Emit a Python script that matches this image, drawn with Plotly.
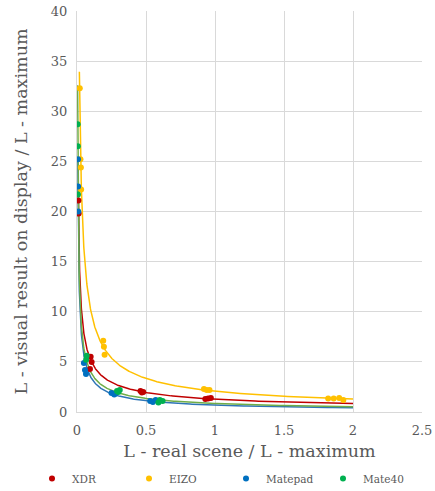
import numpy as np
import plotly.graph_objects as go

# ---- data ----
xdr_x = [0.010, 0.012, 0.094, 0.099, 0.106, 0.46, 0.47, 0.48, 0.93, 0.95, 0.97]
xdr_y = [21.1, 19.8, 4.3, 5.5, 5.0, 2.1, 1.95, 2.0, 1.3, 1.35, 1.4]

eizo_x = [0.020, 0.025, 0.028, 0.030, 0.19, 0.195, 0.20, 0.92, 0.94, 0.96, 1.82, 1.86, 1.90, 1.93]
eizo_y = [32.3, 25.2, 24.4, 22.2, 7.1, 6.5, 5.7, 2.3, 2.2, 2.2, 1.35, 1.35, 1.4, 1.2]

matepad_x = [0.007, 0.008, 0.009, 0.05, 0.058, 0.065, 0.25, 0.27, 0.28, 0.53, 0.55, 0.57]
matepad_y = [25.2, 22.5, 20.0, 4.9, 4.2, 3.8, 1.9, 1.75, 1.85, 1.1, 1.0, 1.2]

mate40_x = [0.005, 0.006, 0.007, 0.066, 0.07, 0.29, 0.30, 0.31, 0.59, 0.60, 0.62]
mate40_y = [28.7, 26.5, 21.7, 5.2, 5.6, 2.1, 2.0, 2.2, 0.95, 1.2, 1.1]

series_names = ["XDR", "EIZO", "Matepad", "Mate40"]
series_colors = ["#C00000", "#FFC000", "#0070C0", "#00B050"]
trend_colors = ["#C00000", "#FFC000", "#2E75B6", "#70AD47"]
trend_start_factor = 0.86
trend_end = 2.0

x_tick_vals = [0, 0.5, 1, 1.5, 2, 2.5]
x_tick_text = ["0", "0.5", "1", "1.5", "2", "2.5"]
y_tick_vals = [0, 5, 10, 15, 20, 25, 30, 35, 40]

FONT = "DejaVu Serif"
TXT = "#595959"

fig = go.Figure()
data = [(xdr_x, xdr_y), (eizo_x, eizo_y), (matepad_x, matepad_y), (mate40_x, mate40_y)]

# power trendlines fitted from the data
for (xs, ys), name, tc in zip(data, series_names, trend_colors):
    lx, ly = np.log(xs), np.log(ys)
    b, loga = np.polyfit(lx, ly, 1)
    tx = np.geomspace(min(xs) * trend_start_factor, trend_end, 300)
    ty = np.exp(loga) * tx ** b
    fig.add_trace(go.Scatter(x=tx, y=ty, mode="lines", line=dict(color=tc, width=1.5),
                             showlegend=False, hoverinfo="skip"))

for (xs, ys), name, c in zip(data, series_names, series_colors):
    fig.add_trace(go.Scatter(x=xs, y=ys, mode="markers", name=name,
                             marker=dict(color=c, size=6)))

fig.update_layout(
    width=435, height=491,
    margin=dict(l=77, r=13, t=11, b=79, autoexpand=False),
    paper_bgcolor="white", plot_bgcolor="white",
    font=dict(family=FONT, color=TXT, size=13),
    xaxis=dict(range=[0, 2.5], tickvals=x_tick_vals, ticktext=x_tick_text,
               showgrid=True, gridcolor="#D9D9D9", gridwidth=1,
               zeroline=False, showline=True, linecolor="#D9D9D9",
               ticks="", ticklabelstandoff=6, tickfont=dict(family=FONT, size=13, color=TXT),
               title=dict(text="L - real scene / L - maximum", font=dict(family=FONT, size=17.5, color=TXT), standoff=8)),
    yaxis=dict(range=[0, 40], tickvals=y_tick_vals,
               showgrid=True, gridcolor="#D9D9D9", gridwidth=1,
               zeroline=False, showline=True, linecolor="#D9D9D9",
               ticks="", ticklabelstandoff=6, tickfont=dict(family=FONT, size=13, color=TXT),
               title=dict(text="L - visual result on display / L - maximum", font=dict(family=FONT, size=17.5, color=TXT), standoff=18)),
    legend=dict(orientation="h",
                x=(32 - 77) / 345, y=-(464 - 412) / 401, xanchor="left", yanchor="top",
                entrywidth=52, entrywidthmode="pixels",
                font=dict(family=FONT, size=10.5, color=TXT)),
)

fig.write_html("out.html", config={"displayModeBar": False},
               post_script="document.body.style.margin='0px';")
